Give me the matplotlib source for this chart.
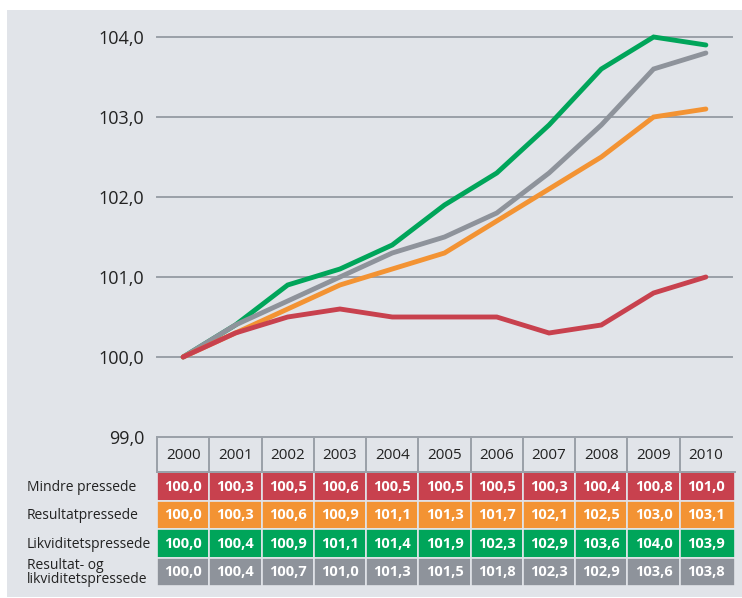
import matplotlib.pyplot as plt
from matplotlib.patches import Rectangle

plt.rcParams['font.family'] = ['Open Sans', 'DejaVu Sans']

years = ['2000', '2001', '2002', '2003', '2004', '2005',
         '2006', '2007', '2008', '2009', '2010']
series_names = ['Mindre pressede', 'Resultatpressede', 'Likviditetspressede',
                'Resultat- og\nlikviditetspressede']
mindre = [100.0, 100.3, 100.5, 100.6, 100.5, 100.5, 100.5, 100.3, 100.4, 100.8, 101.0]
resultat = [100.0, 100.3, 100.6, 100.9, 101.1, 101.3, 101.7, 102.1, 102.5, 103.0, 103.1]
likviditet = [100.0, 100.4, 100.9, 101.1, 101.4, 101.9, 102.3, 102.9, 103.6, 104.0, 103.9]
begge = [100.0, 100.4, 100.7, 101.0, 101.3, 101.5, 101.8, 102.3, 102.9, 103.6, 103.8]
yticks = [99.0, 100.0, 101.0, 102.0, 103.0, 104.0]

colors = ['#c8414e', '#f39333', '#00a55a', '#8e939b']
series = [mindre, resultat, likviditet, begge]
bg = '#e1e4e9'
gridc = '#9aa0a8'

W, H = 742, 598
fig = plt.figure(figsize=(W / 100, H / 100), dpi=100)
fig.patch.set_facecolor('white')

def px(x0, y0, x1, y1):
    # pixel box (top-left origin) -> figure fraction
    return [x0 / W, 1 - y1 / H, (x1 - x0) / W, (y1 - y0) / H]

# grey panel
back = fig.add_axes(px(7, 10, 742, 597), zorder=-5)
back.set_facecolor(bg)
back.set_xticks([])
back.set_yticks([])
for s in back.spines.values():
    s.set_visible(False)

# line chart
ax = fig.add_axes(px(157, 10, 732, 437))
ax.set_facecolor('none')
x = list(range(len(years)))
ax.set_xlim(-0.5, len(years) - 0.5)
ax.set_ylim(99.0, 99.0 + 427 / 80)
for yv in yticks:
    ax.axhline(yv, color=gridc, lw=1.4, zorder=1, clip_on=False)
for i in [2, 3, 1, 0]:
    ax.plot(x, series[i], color=colors[i], lw=3.5, solid_capstyle='round',
            solid_joinstyle='miter', zorder=3, clip_on=False)
ax.set_yticks(yticks)
ax.set_yticklabels([f'{v:.1f}'.replace('.', ',') for v in yticks],
                   fontsize=13, color='#222222')
ax.tick_params(axis='y', length=0, pad=9)
ax.set_xticks([])
for s in ax.spines.values():
    s.set_visible(False)

# table
tb = fig.add_axes(px(157, 437, 735, 586))
tb.set_facecolor('none')
tb.set_xlim(-0.5, len(years) - 0.5 + 3 / 52.3)
tb.set_ylim(149, 0)
tb.axis('off')
hdr = 35
rowh = 28.5
for j, yr in enumerate(years):
    tb.text(j, hdr / 2 + 1, yr, ha='center', va='center', fontsize=11, color='#222222')
    tb.plot([j - 0.5, j - 0.5], [0, hdr], color=gridc, lw=1.4, clip_on=False)
tb.plot([-0.5, len(years) - 0.45], [hdr, hdr], color=gridc, lw=1.4, clip_on=False)
for r, vals in enumerate(series):
    y0 = hdr + r * rowh
    for j, v in enumerate(vals):
        w = 1.0 if j < len(years) - 1 else 1.0 + 3 / 52.3
        tb.add_patch(Rectangle((j - 0.5, y0), w, rowh, facecolor=colors[r],
                               edgecolor=bg, lw=1.2))
        tb.text(j, y0 + rowh / 2 + 0.5, f'{v:.1f}'.replace('.', ','), ha='center',
                va='center', fontsize=10.5, fontweight='bold', color='white')
    fig.text(27 / W, 1 - (437 + y0 + rowh / 2 + 1) / H, series_names[r],
             ha='left', va='center', fontsize=10, color='#222222', linespacing=0.95)

fig.savefig('out.png', dpi=100, facecolor=fig.get_facecolor())
